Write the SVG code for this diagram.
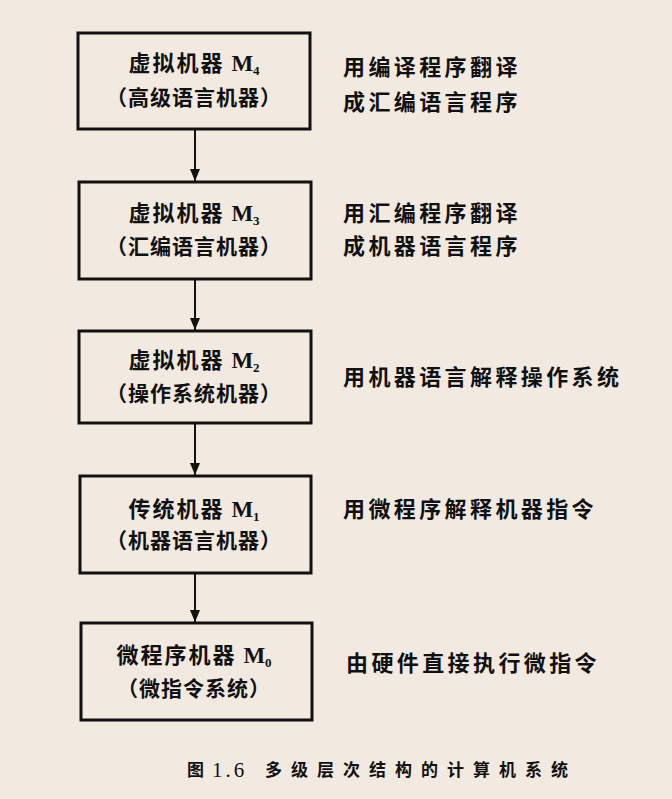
<svg xmlns="http://www.w3.org/2000/svg" width="672" height="799" viewBox="0 0 672 799">
  <defs>
    <marker id="arrow" viewBox="0 0 12 10" refX="12" refY="5" markerWidth="12" markerHeight="10" markerUnits="userSpaceOnUse" orient="auto">
      <path d="M0,0 L12,5 L0,10 Z" fill="#111"/>
    </marker>
    <style>
      .box { fill: none; stroke: #111; stroke-width: 3; }
      .edge { stroke: #111; stroke-width: 2; fill: none; }
      .t1 { font-family: "Noto Sans CJK SC", "Noto Sans", sans-serif; font-size: 22px; fill: #111; text-anchor: middle; letter-spacing: 2px; font-weight: bold; }
      .t2 { font-family: "Noto Sans CJK SC", "Noto Sans", sans-serif; font-size: 21px; fill: #111; text-anchor: middle; letter-spacing: 1px; font-weight: bold; }
      .m { font-family: "Liberation Serif", serif; font-weight: bold; font-size: 23px; letter-spacing: 0; }
      .sub { font-family: "Liberation Serif", serif; font-size: 13px; letter-spacing: 0; }
      .note { font-family: "Noto Sans CJK SC", "Noto Sans", sans-serif; font-size: 22px; fill: #111; letter-spacing: 3.4px; font-weight: bold; }
      .cap { font-family: "Noto Sans CJK SC", "Noto Sans", sans-serif; font-size: 17px; fill: #111; font-weight: bold; }
      .capn { font-family: "Liberation Serif", serif; font-size: 21px; fill: #111; letter-spacing: 3px; }
    </style>
  </defs>

  <rect width="672" height="799" fill="#f2e9e1"/>

  <!-- connectors -->
  <g id="edges">
    <line class="edge" x1="195" y1="130" x2="195" y2="181" marker-end="url(#arrow)"/>
    <line class="edge" x1="195" y1="280" x2="195" y2="330" marker-end="url(#arrow)"/>
    <line class="edge" x1="195" y1="424" x2="195" y2="475" marker-end="url(#arrow)"/>
    <line class="edge" x1="195" y1="574" x2="195" y2="622" marker-end="url(#arrow)"/>
  </g>

  <!-- level 4 -->
  <g id="m4">
    <rect class="box" x="78" y="33" width="232" height="96"/>
    <text class="t1" x="194" y="71">虚拟机器 <tspan class="m">M</tspan><tspan class="sub" dy="4">4</tspan></text>
    <text class="t2" x="194" y="105">（高级语言机器）</text>
    <text class="note" x="343" y="75">用编译程序翻译</text>
    <text class="note" x="343" y="110">成汇编语言程序</text>
  </g>

  <!-- level 3 -->
  <g id="m3">
    <rect class="box" x="79" y="182" width="232" height="97"/>
    <text class="t1" x="194" y="221">虚拟机器 <tspan class="m">M</tspan><tspan class="sub" dy="4">3</tspan></text>
    <text class="t2" x="194" y="254">（汇编语言机器）</text>
    <text class="note" x="343" y="221">用汇编程序翻译</text>
    <text class="note" x="343" y="254">成机器语言程序</text>
  </g>

  <!-- level 2 -->
  <g id="m2">
    <rect class="box" x="79" y="331" width="232" height="92"/>
    <text class="t1" x="194" y="368">虚拟机器 <tspan class="m">M</tspan><tspan class="sub" dy="4">2</tspan></text>
    <text class="t2" x="194" y="401">（操作系统机器）</text>
    <text class="note" x="343" y="385">用机器语言解释操作系统</text>
  </g>

  <!-- level 1 -->
  <g id="m1">
    <rect class="box" x="80" y="476" width="231" height="97"/>
    <text class="t1" x="194" y="517">传统机器 <tspan class="m">M</tspan><tspan class="sub" dy="4">1</tspan></text>
    <text class="t2" x="194" y="548">（机器语言机器）</text>
    <text class="note" x="343" y="517">用微程序解释机器指令</text>
  </g>

  <!-- level 0 -->
  <g id="m0">
    <rect class="box" x="81" y="623" width="231" height="97"/>
    <text class="t1" x="194" y="663">微程序机器 <tspan class="m">M</tspan><tspan class="sub" dy="4">0</tspan></text>
    <text class="t2" x="194" y="696">（微指令系统）</text>
    <text class="note" x="346" y="671">由硬件直接执行微指令</text>
  </g>

  <!-- caption -->
  <g id="caption">
    <text class="cap" x="187" y="776">图</text>
    <text class="capn" x="212" y="777">1.6</text>
    <text class="cap" x="265" y="776" letter-spacing="9">多级层次结构的计算机系统</text>
  </g>
</svg>
